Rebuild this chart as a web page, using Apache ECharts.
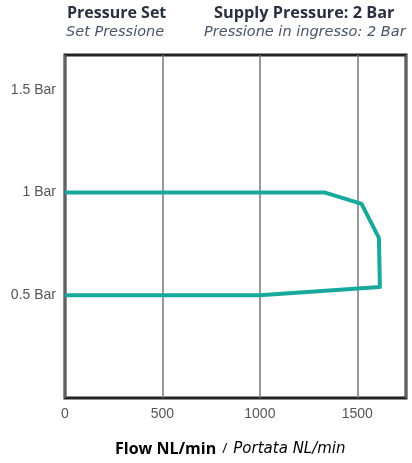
<!DOCTYPE html>
<html><head><meta charset="utf-8">
<script src="https://cdn.jsdelivr.net/npm/echarts@6/dist/echarts.min.js"></script>
<style>html,body{margin:0;padding:0;background:#fff}#c{width:412px;height:463px}</style>
</head><body><div id="c"></div>
<script>
const flow = [0, 1335, 1522, 1611, 1616, 1000, 0];
const pressure = [1.0, 1.0, 0.945, 0.78, 0.54, 0.5, 0.5];
const xTicks = [0, 500, 1000, 1500];
const yTickLabels = {0.5: '0.5 Bar', 1: '1 Bar', 1.5: '1.5 Bar'};

const chart = echarts.init(document.getElementById('c'));
chart.setOption({
  animation: false,
  grid: {left: 65, right: 6, top: 55, bottom: 65, show: true, borderColor: '#222', borderWidth: 3, backgroundColor: 'transparent'},
  xAxis: {
    type: 'value', min: 0, max: 1750, interval: 500,
    axisLine: {show: false}, axisTick: {show: false},
    splitLine: {show: true, lineStyle: {color: '#777', width: 1.5}},
    axisLabel: {color: '#555', fontSize: 14, fontFamily: 'Liberation Sans, Arial', margin: 9, showMaxLabel: false,
      formatter: v => xTicks.includes(v) ? String(v) : ''}
  },
  yAxis: {
    type: 'value', min: 0, max: 1.67, interval: 0.5,
    axisLine: {show: false}, axisTick: {show: false},
    splitLine: {show: false},
    axisLabel: {color: '#555', fontSize: 14, fontFamily: 'Liberation Sans, Arial', margin: 9, showMinLabel: false, showMaxLabel: false,
      formatter: v => yTickLabels[v] || ''}
  },
  series: [{
    type: 'line', data: flow.map((f, i) => [f, pressure[i]]),
    showSymbol: false, symbol: 'none',
    lineStyle: {color: '#17a99c', width: 4, join: 'round'}
  }],
  graphic: [
    {type: 'text', left: 67, top: 5, style: {text: 'Pressure Set', font: 'bold 16px "Open Sans", "Liberation Sans"', fill: '#2b3040'}},
    {type: 'text', left: 66, top: 25, style: {text: 'Set Pressione', font: 'italic 14.5px "DejaVu Sans"', fill: '#4a5468'}},
    {type: 'text', left: 214, top: 5, style: {text: 'Supply Pressure: 2 Bar', font: 'bold 16.3px "Open Sans", "Liberation Sans"', fill: '#2b3040'}},
    {type: 'text', left: 204, top: 25, style: {text: 'Pressione in ingresso: 2 Bar', font: 'italic 14.5px "DejaVu Sans"', fill: '#4a5468'}},
    {type: 'text', left: 115, top: 441, style: {
      text: '{b|Flow NL/min}{s|/}{i|Portata NL/min}',
      rich: {
        b: {font: 'bold 16px "Open Sans", "Liberation Sans"', color: '#2b3040'},
        s: {font: '14px "Open Sans"', color: '#bbb', padding: [0, 6, 0, 6]},
        i: {font: 'italic 15px "DejaVu Sans"', color: '#4a5468'}
      }}}
  ]
});
</script></body></html>
